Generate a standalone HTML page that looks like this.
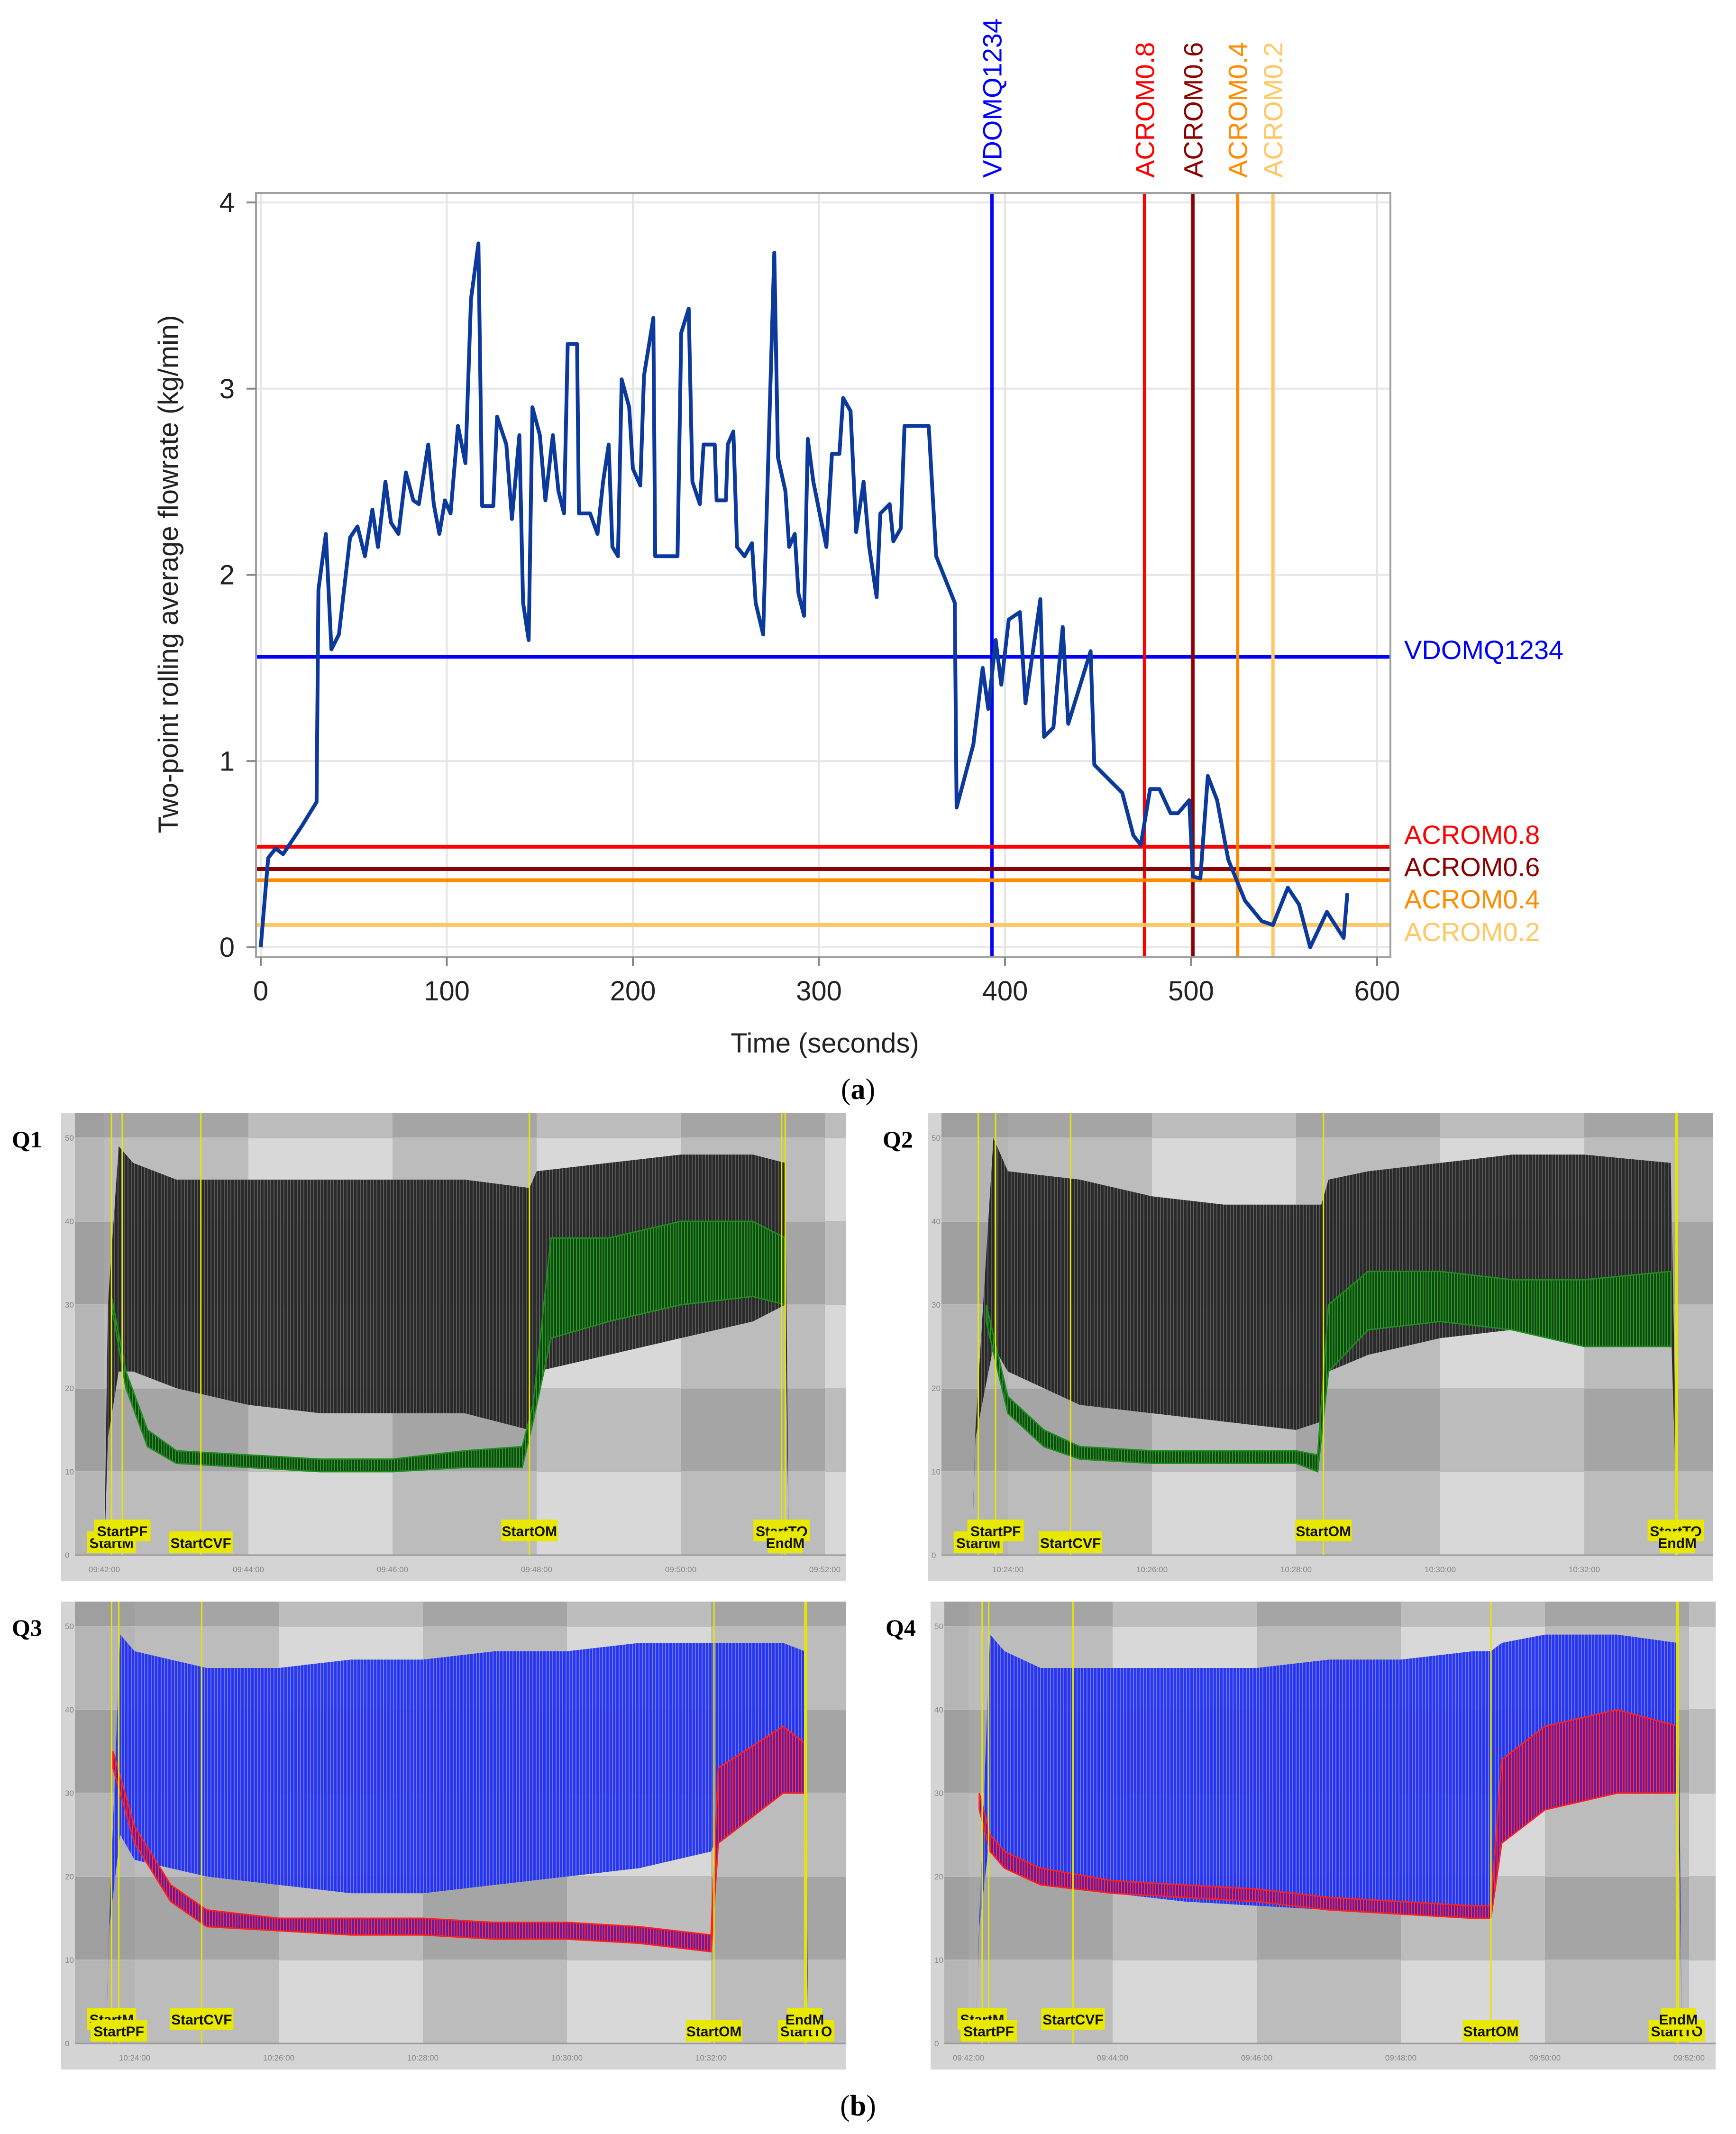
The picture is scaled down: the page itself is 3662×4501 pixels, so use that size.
<!DOCTYPE html>
<html><head><meta charset="utf-8">
<style>
html,body{margin:0;padding:0;background:#fff;}
body{width:3662px;height:4501px;position:relative;overflow:hidden;font-family:"Liberation Sans",sans-serif;}
svg{position:absolute;left:0;top:0;}
</style></head>
<body>
<svg id="fig" width="3662" height="4501" viewBox="0 0 3662 4501" xmlns="http://www.w3.org/2000/svg">
<defs>
<pattern id="stripeK" width="7" height="20" patternUnits="userSpaceOnUse"><rect width="7" height="20" fill="#222"/><rect width="2" height="20" fill="#555"/></pattern>
<pattern id="stripeB" width="7" height="20" patternUnits="userSpaceOnUse"><rect width="7" height="20" fill="#1f2ff0"/><rect width="2" height="20" fill="#6a72f0"/></pattern>
<pattern id="stripeG" width="6" height="20" patternUnits="userSpaceOnUse"><rect width="6" height="20" fill="#104a10"/><rect width="2" height="20" fill="#2a9a2a"/></pattern>
<pattern id="stripeR" width="6" height="20" patternUnits="userSpaceOnUse"><rect width="6" height="20" fill="#6a1aa0"/><rect width="2" height="20" fill="#ff3030"/></pattern>
</defs>
<g id="top"></g>
<text x="1810" y="2318" font-family="Liberation Serif,serif" font-size="62" text-anchor="middle">(<tspan font-weight="bold">a</tspan>)</text>
<g id="panels"></g>
<text x="1810" y="4462" font-family="Liberation Serif,serif" font-size="62" text-anchor="middle">(<tspan font-weight="bold">b</tspan>)</text>
</svg>
<script>
// ---------- top chart data ----------
var times = [0,4,8,12,16,22,30,31,35,38,42,48,52,56,60,63,67,70,74,78,82,85,90,93,96,99,102,106,110,113,117,119,125,127,132,135,139,141,144,146,150,153,157,160,163,165,170,171,177,181,184,187,189,192,194,198,200,204,206,211,212,224,226,230,232,236,238,244,245,250,251,254,256,260,264,266,270,276,278,282,284,287,289,292,294,297,300,304,307,311,313,317,320,324,327,331,333,338,340,344,346,353,359,363,373,374,383,388,391,395,398,402,408,411,419,421,426,431,434,446,448,454,463,469,473,478,483,489,493,499,501,505,509,514,520,529,538,544,552,558,564,573,582,584];
var flows = [0,0.48,0.53,0.5,0.56,0.65,0.78,1.92,2.22,1.6,1.68,2.2,2.26,2.1,2.35,2.15,2.5,2.28,2.22,2.55,2.4,2.38,2.7,2.38,2.22,2.4,2.33,2.8,2.6,3.48,3.78,2.37,2.37,2.85,2.7,2.3,2.75,1.85,1.65,2.9,2.75,2.4,2.75,2.45,2.33,3.24,3.24,2.33,2.33,2.22,2.5,2.7,2.15,2.1,3.05,2.9,2.57,2.48,3.07,3.38,2.1,2.1,3.3,3.43,2.5,2.38,2.7,2.7,2.4,2.4,2.7,2.77,2.15,2.1,2.17,1.85,1.68,3.73,2.63,2.45,2.15,2.22,1.9,1.78,2.73,2.5,2.35,2.15,2.65,2.65,2.95,2.88,2.23,2.5,2.15,1.88,2.33,2.38,2.18,2.25,2.8,2.8,2.8,2.1,1.85,0.75,1.09,1.5,1.28,1.65,1.41,1.76,1.8,1.31,1.87,1.13,1.18,1.72,1.2,1.59,0.98,0.92,0.83,0.6,0.55,0.85,0.85,0.72,0.72,0.79,0.38,0.37,0.92,0.79,0.47,0.25,0.14,0.12,0.32,0.23,0,0.19,0.05,0.29];
var xTicks = [0,100,200,300,400,500,600];
var yTicks = [0,1,2,3,4];
var refNames = ["VDOMQ1234","ACROM0.8","ACROM0.6","ACROM0.4","ACROM0.2"];
var refTimes = [393,475,501,525,544];
var refFlows = [1.56,0.54,0.42,0.36,0.12];
var refColors = ["#0000ff","#ff0000","#8b0000","#ff8c00","#ffc864"];
var refLabelY = [1390,1780,1848,1916,1985];

var NS="http://www.w3.org/2000/svg";
function mk(parent, tag, attrs, txt){var e=document.createElementNS(NS,tag);for(var k in attrs)e.setAttribute(k,attrs[k]);if(txt!==undefined)e.textContent=txt;parent.appendChild(e);return e;}

(function(){
  var g=document.getElementById('top');
  var X0=550,X1=2905,Y0=1998,Y1=427;
  function sx(v){return X0+(v-0)/600*(X1-X0);}
  function sy(v){return Y0-(v-0)/4*(Y0-Y1);}
  var bg=mk(g,'rect',{x:540,y:407,width:2393,height:1612,fill:'#fff',stroke:'#a0a0a0','stroke-width':4});
  
  
  xTicks.forEach(function(t){
    var l=mk(g,'line',{x1:sx(t),x2:sx(t),y1:409,y2:2017,stroke:'#e6e6e6','stroke-width':4});
    
    
    var tk=mk(g,'line',{x1:sx(t),x2:sx(t),y1:2019,y2:2037,stroke:'#888','stroke-width':4});
    
    
    var tx=mk(g,'text',{x:sx(t),y:2110,'font-size':58,'text-anchor':'middle',fill:'#222'},String(t));
    
    
  });
  yTicks.forEach(function(v){
    var l=mk(g,'line',{x1:542,x2:2931,y1:sy(v),y2:sy(v),stroke:'#e6e6e6','stroke-width':4});
    
    
    var tk=mk(g,'line',{x1:520,x2:540,y1:sy(v),y2:sy(v),stroke:'#888','stroke-width':4});
    
    
    var tx=mk(g,'text',{x:495,y:sy(v)+20,'font-size':58,'text-anchor':'end',fill:'#222'},String(v));
    
    
  });
  refNames.forEach(function(n,i){
    var h=mk(g,'line',{x1:542,x2:2931,y1:sy(refFlows[i]),y2:sy(refFlows[i]),stroke:refColors[i],'stroke-width':8});
    
    
    var v=mk(g,'line',{x1:sx(refTimes[i]),x2:sx(refTimes[i]),y1:409,y2:2017,stroke:refColors[i],'stroke-width':7});
    
    
    var vt=mk(g,'text',{x:0,y:0,'font-size':56,fill:refColors[i],transform:'translate('+(sx(refTimes[i])+20)+',375) rotate(-90)'},n);
    
    
    var ht=mk(g,'text',{x:2962,y:refLabelY[i],'font-size':56,fill:refColors[i]},n);
    
    
  });
  var pts=times.map(function(t,i){return sx(t).toFixed(1)+','+sy(flows[i]).toFixed(1);}).join(' ');
  var pl=mk(g,'polyline',{points:pts,fill:'none',stroke:'#0b3a9c','stroke-width':8,'stroke-linejoin':'round'});
  
  
  var xt=mk(g,'text',{x:1740,y:2220,'font-size':58,'text-anchor':'middle',fill:'#222'},'Time (seconds)');
  
  
  var yt=mk(g,'text',{x:0,y:0,'font-size':58,'text-anchor':'middle',fill:'#222',transform:'translate(375,1211) rotate(-90)'},'Two-point rolling average flowrate (kg/min)');
  
  
})();

// ---------- bottom panels data ----------
var q1BandT=[0,0.05,0.2,0.4,1,2,3,4,5,5.9,6.0,7,8,9,9.45,9.5];
var q1BandUp=[0,30,49,47,45,45,45,45,45,44,46,47,48,48,47,0];
var q1BandLo=[0,14,22,22,20,18,17,17,17,15,22,24,26,28,30,0];
var q1InT=[0.1,0.3,0.6,1,2,3,4,5,5.8,5.95,6.2,7,8,9,9.45];
var q1InLo=[30,20,13,11,10.5,10,10,10.5,10.5,16,26,28,30,31,30];
var q1InUp=[31,22,15,12.5,12,11.5,11.5,12.5,13,18,38,38,40,40,38];
var q1Events=[0.1,0.25,1.34,5.9,9.4,9.45];
var q1EventNames=["StartM","StartPF","StartCVF","StartOM","StartTO","EndM"];
var q1Ticks=["09:42:00","09:44:00","09:46:00","09:48:00","09:50:00","09:52:00"];

var q2BandT=[-0.5,-0.45,-0.2,0,1,2,3,4,4.35,4.45,5,6,7,8,9.2,9.3];
var q2BandUp=[0,15,50,46,45,43,42,42,42,45,46,47,48,48,47,0];
var q2BandLo=[0,14,25,22,18,17,16,15,16,22,24,26,27,28,28,0];
var q2InT=[-0.3,0,0.5,1,2,3,4,4.3,4.45,5,6,7,8,9.2];
var q2InLo=[28,17,13,11.5,11,11,11,10,22,27,28,27,25,25];
var q2InUp=[30,19,15,13,12.5,12.5,12.5,12,30,34,34,33,33,34];
var q2Events=[-0.41,-0.17,0.87,4.38,9.27,9.29];
var q2EventNames=["StartM","StartPF","StartCVF","StartOM","StartTO","EndM"];
var q2Ticks=["10:24:00","10:26:00","10:28:00","10:30:00","10:32:00"];

var q3BandT=[-0.4,-0.35,-0.2,0,1,2,3,4,5,6,7,8,8.1,9,9.3,9.35];
var q3BandUp=[0,15,49,47,45,45,46,46,47,47,48,48,48,48,47,0];
var q3BandLo=[0,14,25,22,20,19,18,18,19,20,21,23,25,30,30,0];
var q3InT=[-0.3,0,0.5,1,2,3,4,5,6,7,8,8.1,9,9.3];
var q3InLo=[33,24,17,14,13.5,13,13,12.5,12.5,12,11,24,30,30];
var q3InUp=[35,26,19,16,15,15,15,14.5,14.5,14,13,33,38,36];
var q3Events=[-0.32,-0.22,0.93,8.04,9.32,9.3];
var q3EventNames=["StartM","StartPF","StartCVF","StartOM","StartTO","EndM"];
var q3Ticks=["10:24:00","10:26:00","10:28:00","10:30:00","10:32:00"];

var q4BandT=[0.1,0.15,0.3,0.5,1,2,3,4,5,6,7,7.25,7.4,8,9,9.85,9.9];
var q4BandUp=[0,15,49,47,45,45,45,45,46,46,47,47,48,49,49,48,0];
var q4BandLo=[0,14,25,22,19,18,17,16.5,16,16,16,16,25,28,30,30,0];
var q4InT=[0.15,0.3,0.5,1,2,3,4,5,6,7,7.25,7.4,8,9,9.85];
var q4InLo=[28,23,21,19,18,17.5,17,16,15.5,15,15,24,28,30,30];
var q4InUp=[30,25,23,21,19.5,19,18.5,17.5,17,16.5,16.5,34,38,40,38];
var q4Events=[0.19,0.28,1.45,7.25,9.83,9.85];
var q4EventNames=["StartM","StartPF","StartCVF","StartOM","StartTO","EndM"];
var q4Ticks=["09:42:00","09:44:00","09:46:00","09:48:00","09:50:00","09:52:00"];
var yPanelTicks=[0,10,20,30,40,50];

function drawPanel(cfg){
  var root=document.getElementById('panels');
  var g=mk(root,'g',{transform:'translate('+cfg.x+','+cfg.y+')'});
  
  
  var W=1656,H=987,PL=29,PB=932;
  var m0=cfg.m0;
  function sx(t){return m0+t*152;}
  function sy(v){return 932-v/50*880;}
  var bg=mk(g,'rect',{x:0,y:0,width:W,height:H,fill:'#d4d4d4'});
  
  
  mk(g,'rect',{x:PL,y:0,width:W-PL,height:PB,fill:'#d8d8d8'});
  for(var k=-1;k<6;k++){
    var a=Math.max(PL,sx(k*2)),b=Math.min(W,sx(k*2+2));
    if(b<=a)continue;
    var op=(k===-1)?0.16:(k%2===0?0.13:0.0);
    mk(g,'rect',{x:a,y:0,width:b-a,height:PB,fill:'#000','fill-opacity':op});
  }
  for(var r=0;r<6;r++){
    var top=r===0?0:sy(60-r*10), bot=sy(50-r*10);
    if(r%2===0) mk(g,'rect',{x:PL,y:top,width:W-PL,height:bot-top,fill:'#000','fill-opacity':0.12});
  }
  yPanelTicks.forEach(function(v){
    var l=mk(g,'line',{x1:PL,x2:W,y1:sy(v),y2:sy(v),stroke:'#bbb','stroke-width':2});
    
    
    var t=mk(g,'text',{x:8,y:sy(v)+6,'font-size':17,fill:'#888'},String(v));
    
    
  });
  mk(g,'line',{x1:PL,x2:W,y1:PB,y2:PB,stroke:'#999','stroke-width':3});
  cfg.ticks.forEach(function(lbl,i){
    var t=mk(g,'text',{x:sx(i*2),y:968,'font-size':17,fill:'#888','text-anchor':'middle'},lbl);
    
    
  });
  function poly(T,U,L){
    var p=[];for(var i=0;i<T.length;i++)p.push(sx(T[i]).toFixed(1)+','+sy(U[i]).toFixed(1));
    for(var j=T.length-1;j>=0;j--)p.push(sx(T[j]).toFixed(1)+','+sy(L[j]).toFixed(1));
    return p.join(' ');
  }
  var band=mk(g,'polygon',{points:poly(cfg.bT,cfg.bU,cfg.bL),fill:cfg.bandFill,'fill-opacity':0.95});
  
  
  var inner=mk(g,'polygon',{points:poly(cfg.iT,cfg.iU,cfg.iL),fill:cfg.innerFill,stroke:cfg.innerStroke,'stroke-width':3});
  
  
  cfg.events.forEach(function(t,i){
    var l=mk(g,'line',{x1:sx(t),x2:sx(t),y1:0,y2:PB,stroke:'#e6e600','stroke-width':3});
    
    
  });
  cfg.events.forEach(function(t,i){
    var upper=cfg.upper.indexOf(cfg.names[i])>=0;
    var by=upper?857:882;
    var w=cfg.names[i].length*15+14;
    var bx=sx(t)-w/2;
    if(cfg.names[i]==="StartTO"||cfg.names[i]==="EndM") bx=Math.min(bx,W-w-10);
    var bxr=mk(g,'rect',{x:bx,y:by,width:w,height:46,fill:'#e8e800'});
    
    
    var tx=mk(g,'text',{x:bx+w/2,y:by+35,'font-size':30,'font-weight':'bold','text-anchor':'middle',fill:'#111','font-family':'Liberation Sans Narrow,Liberation Sans,sans-serif'},cfg.names[i]);
    
    
  });
  var q=mk(root,'text',{x:cfg.qx,y:cfg.y+72,'font-size':50,'font-weight':'bold','font-family':'Liberation Serif,serif'},cfg.name);
  
  
}
drawPanel({name:'Q1',x:129,y:2348,qx:25,m0:91,bT:q1BandT,bU:q1BandUp,bL:q1BandLo,iT:q1InT,iU:q1InUp,iL:q1InLo,events:q1Events,names:q1EventNames,ticks:q1Ticks,bandFill:'url(#stripeK)',innerFill:'url(#stripeG)',innerStroke:'#1f8c1f',upper:["StartPF","StartOM","StartTO"]});
drawPanel({name:'Q2',x:1957,y:2348,qx:1862,m0:169,bT:q2BandT,bU:q2BandUp,bL:q2BandLo,iT:q2InT,iU:q2InUp,iL:q2InLo,events:q2Events,names:q2EventNames,ticks:q2Ticks,bandFill:'url(#stripeK)',innerFill:'url(#stripeG)',innerStroke:'#1f8c1f',upper:["StartPF","StartOM","StartTO"]});
drawPanel({name:'Q3',x:129,y:3378,qx:25,m0:155,bT:q3BandT,bU:q3BandUp,bL:q3BandLo,iT:q3InT,iU:q3InUp,iL:q3InLo,events:q3Events,names:q3EventNames,ticks:q3Ticks,bandFill:'url(#stripeB)',innerFill:'url(#stripeR)',innerStroke:'#ff2020',upper:["StartM","StartCVF","EndM"]});
drawPanel({name:'Q4',x:1963,y:3378,qx:1868,m0:80,bT:q4BandT,bU:q4BandUp,bL:q4BandLo,iT:q4InT,iU:q4InUp,iL:q4InLo,events:q4Events,names:q4EventNames,ticks:q4Ticks,bandFill:'url(#stripeB)',innerFill:'url(#stripeR)',innerStroke:'#ff2020',upper:["StartM","StartCVF","EndM"]});
</script>
</body></html>
